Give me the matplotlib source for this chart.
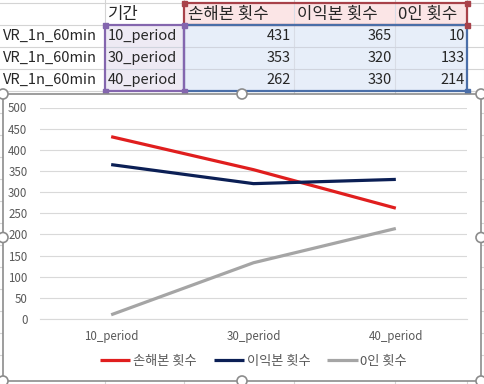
import matplotlib.pyplot as plt
from matplotlib.patches import Rectangle, Circle
import numpy as np

plt.rcParams['font.family'] = ['Noto Sans CJK KR', 'DejaVu Sans']

# 데이터
row_names = ['VR_1n_60min', 'VR_1n_60min', 'VR_1n_60min']
periods = ['10_period', '30_period', '40_period']
series_names = ['손해본 횟수', '이익본 횟수', '0인 횟수']
loss_counts = [431, 353, 262]
gain_counts = [365, 320, 330]
zero_counts = [10, 133, 214]
header_label = '기간'

series_values = [loss_counts, gain_counts, zero_counts]
line_colors = ['#E01E1E', '#0B1F55', '#A5A5A5']

W, H = 484, 384
fig = plt.figure(figsize=(W / 100, H / 100), dpi=100)

# 시트 배경 (픽셀 좌표)
bg = fig.add_axes([0, 0, 1, 1])
bg.set_xlim(0, W)
bg.set_ylim(H, 0)
bg.axis('off')

grid_c = '#D4D4D4'
col_edges = [0, 105, 184, 294, 395, 467, 484]
row_edges = [3, 25, 47, 69, 91, 113, 135, 157, 179, 201, 223, 245, 267, 289, 311, 333, 355, 377]
for x in col_edges[1:]:
    bg.plot([x, x], [0, H], color=grid_c, lw=0.8, zorder=0)
for y in row_edges:
    bg.plot([0, W], [y, y], color=grid_c, lw=0.8, zorder=0)

# 셀 채우기와 테두리
bg.add_patch(Rectangle((184, 3), 283, 22, facecolor='#FBE5E6', edgecolor='none', zorder=1))
bg.add_patch(Rectangle((184, 25), 283, 66, facecolor='#E7EEF9', edgecolor='none', zorder=1))
bg.add_patch(Rectangle((105, 25), 79, 66, facecolor='#EEEAF4', edgecolor='none', zorder=1))
for x in [294, 395]:
    bg.plot([x, x], [3, 91], color='#D8DCE6', lw=0.8, zorder=1.5)
for y in [47, 69]:
    bg.plot([105, 467], [y, y], color='#D0D4DE', lw=0.8, zorder=1.5)
bg.add_patch(Rectangle((184, 3), 283, 22, facecolor='none', edgecolor='#A8424A', lw=1.6, zorder=2))
bg.add_patch(Rectangle((184, 25), 283, 66, facecolor='none', edgecolor='#4A6EA8', lw=1.6, zorder=2))
bg.add_patch(Rectangle((105, 25), 79, 66, facecolor='none', edgecolor='#8466AE', lw=1.6, zorder=2.5))
for (x, y, c) in [(184, 3, '#A8424A'), (467, 3, '#A8424A'), (467, 25, '#A8424A'),
                  (105, 25, '#8466AE'), (184, 25, '#8466AE'), (105, 91, '#8466AE'),
                  (184, 91, '#8466AE'), (467, 91, '#4A6EA8')]:
    bg.add_patch(Rectangle((x - 2.5, y - 2.5), 5, 5, color=c, zorder=3))

# 셀 텍스트
fs = 10.5
fs_kr = 12
txt_c = '#262626'
bg.text(108, 14, header_label, fontsize=fs_kr, color=txt_c, va='center', ha='left')
header_x = [188, 297, 398]
for name, x in zip(series_names, header_x):
    bg.text(x, 14, name, fontsize=fs_kr, color=txt_c, va='center', ha='left')
row_y = [36, 58, 80]
num_right = [291, 392, 465]
for i, y in enumerate(row_y):
    bg.text(3, y, row_names[i], fontsize=fs, color=txt_c, va='center', ha='left')
    bg.text(108, y, periods[i], fontsize=fs, color=txt_c, va='center', ha='left')
    for vals, xr in zip(series_values, num_right):
        bg.text(xr, y, str(vals[i]), fontsize=fs, color=txt_c, va='center', ha='right')

# 차트 영역
cx0, cy0, cx1, cy1 = 3, 94, 481, 381
bg.add_patch(Rectangle((cx0, cy0), cx1 - cx0, cy1 - cy0, facecolor='white',
                       edgecolor='#8C8C8C', lw=1.2, zorder=4))
for (x, y) in [(cx0, cy0), ((cx0 + cx1) / 2, cy0), (cx1, cy0), (cx0, (cy0 + cy1) / 2),
               (cx1, (cy0 + cy1) / 2), (cx0, cy1), ((cx0 + cx1) / 2, cy1), (cx1, cy1)]:
    bg.add_patch(Circle((x, y), 5, facecolor='white', edgecolor='#8C8C8C', lw=1.2, zorder=5))

# 꺾은선 차트
px0, px1, py_top, py_bot = 40, 467, 107.5, 319
ax = fig.add_axes([px0 / W, 1 - py_bot / H, (px1 - px0) / W, (py_bot - py_top) / H])
ax.set_facecolor('none')
x = np.arange(len(periods))
for name, vals, c in zip(series_names, series_values, line_colors):
    ax.plot(x, vals, color=c, lw=2.3, label=name, solid_capstyle='butt')

ax.set_xlim(-0.5, len(periods) - 0.5)
ax.set_ylim(0, 500)
ax.set_yticks(np.arange(0, 501, 50))
ax.set_xticks(x)
ax.set_xticklabels(periods)
ax.grid(axis='y', color='#D9D9D9', lw=0.8)
ax.set_axisbelow(True)
for s in ['top', 'right', 'left']:
    ax.spines[s].set_visible(False)
ax.spines['bottom'].set_color('#D9D9D9')
ax.tick_params(axis='both', length=0, labelsize=8.3, labelcolor='#595959')
ax.tick_params(axis='y', pad=9)
ax.tick_params(axis='x', pad=8)

ax.legend(loc='center', bbox_to_anchor=(0.5, -0.2), ncol=3, frameon=False,
          fontsize=9.5, handlelength=2.3, handletextpad=0.2, columnspacing=1.3,
          labelcolor='#595959')

fig.savefig('out.png', dpi=100)
